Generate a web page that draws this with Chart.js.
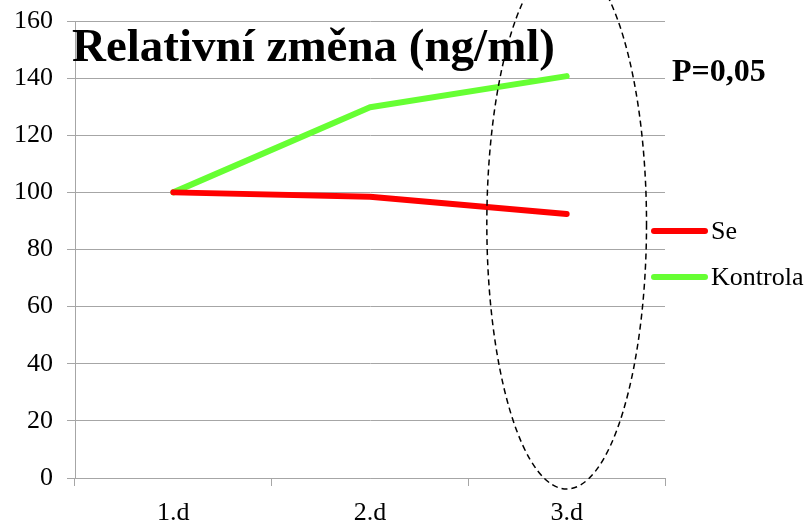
<!DOCTYPE html>
<html>
<head>
<meta charset="utf-8">
<script src="https://cdn.jsdelivr.net/npm/chart.js@4/dist/chart.umd.min.js"></script>
<style>
  html, body { margin: 0; padding: 0; background: #fff; }
  #wrap { width: 809px; height: 521px; }
</style>
</head>
<body>
<div id="wrap"><canvas id="chart" width="809" height="521"></canvas></div>
<script>
const days = ['1.d', '2.d', '3.d'];
const seValues = [100, 98.5, 92.4];
const kontrolaValues = [100, 129.8, 140.7];
const seriesNames = ['Se', 'Kontrola'];
const seriesColors = ['#ff0000', '#66ff33'];
const titleText = 'Relativní změna (ng/ml)';
const pText = 'P=0,05';

const serif = '"Liberation Serif", "Times New Roman", serif';
const gridGray = '#a6a6a6';

// title, p-value note, legend and the dashed ring round day 3
const overlay = {
  id: 'overlay',
  afterDatasetsDraw(chart) {
    const ctx = chart.ctx;
    const x = chart.scales.x, y = chart.scales.y;
    ctx.save();

    // dashed ellipse around the last day
    const step = x.getPixelForValue(1) - x.getPixelForValue(0);
    const cx = x.getPixelForValue(2);
    const cy = y.getPixelForValue(89);
    const rx = step * 0.406;
    const ry = y.getPixelForValue(-3.85) - cy;
    ctx.beginPath();
    ctx.setLineDash([6, 4]);
    ctx.lineWidth = 1.5;
    ctx.strokeStyle = '#000';
    ctx.ellipse(cx, cy, rx, ry, 0, 0, Math.PI * 2);
    ctx.stroke();
    ctx.setLineDash([]);

    // title
    ctx.fillStyle = '#000';
    ctx.textBaseline = 'alphabetic';
    ctx.textAlign = 'left';
    ctx.font = 'bold 47px ' + serif;
    ctx.fillText(titleText, 72, 61);

    ctx.font = 'bold 32px ' + serif;
    ctx.fillText(pText, 672, 81);

    // legend
    const rows = [231, 277];
    chart.data.datasets.forEach((ds, i) => {
      ctx.beginPath();
      ctx.lineWidth = 6;
      ctx.lineCap = 'round';
      ctx.strokeStyle = ds.borderColor;
      ctx.moveTo(654, rows[i]);
      ctx.lineTo(705, rows[i]);
      ctx.stroke();
      ctx.fillStyle = '#000';
      ctx.font = '26px ' + serif;
      ctx.textBaseline = 'middle';
      ctx.fillText(ds.label, 711, rows[i] + 1);
    });
    ctx.restore();
  }
};

new Chart(document.getElementById('chart'), {
  type: 'line',
  data: {
    labels: days,
    datasets: [
      { label: seriesNames[0], data: seValues, borderColor: seriesColors[0] },
      { label: seriesNames[1], data: kontrolaValues, borderColor: seriesColors[1] }
    ].map(ds => Object.assign(ds, {
      borderWidth: 6,
      pointRadius: 0,
      tension: 0,
      fill: false,
      borderCapStyle: 'round',
      borderJoinStyle: 'round'
    }))
  },
  options: {
    responsive: false,
    animation: false,
    layout: { padding: { left: 0, right: 144, top: 21, bottom: -19 } },
    plugins: {
      legend: { display: false },
      tooltip: { enabled: false }
    },
    scales: {
      x: {
        offset: true,
        grid: { offset: true, drawOnChartArea: false, drawTicks: true, tickLength: 8, color: gridGray },
        border: { display: true, color: gridGray },
        ticks: { color: '#000', padding: 14, font: { family: serif, size: 26, lineHeight: 1 } }
      },
      y: {
        min: 0,
        max: 160,
        ticks: { stepSize: 20, color: '#000', padding: 14, font: { family: serif, size: 26, lineHeight: 0.5 } },
        grid: { color: gridGray, tickLength: 8, lineWidth: 1 },
        border: { display: true, color: gridGray }
      }
    }
  },
  plugins: [overlay]
});
</script>
</body>
</html>
